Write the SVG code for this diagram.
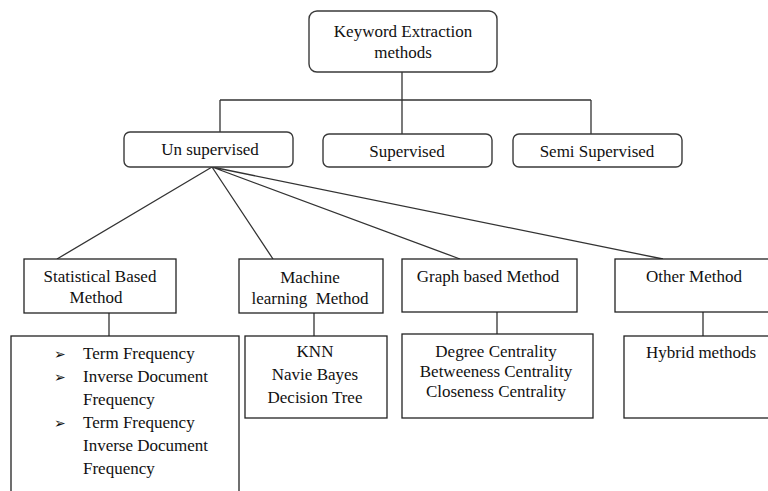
<svg xmlns="http://www.w3.org/2000/svg" width="768" height="491" viewBox="0 0 768 491">
<style>
  .rbox { fill: #fff; stroke: #3a3a3a; stroke-width: 1.4; }
  .box { fill: #fff; stroke: #222; stroke-width: 1.3; }
  .conn { fill: none; stroke: #333; stroke-width: 1.3; }
  .c { text-anchor: middle; }
</style>
<rect width="768" height="491" fill="#fff"/>
<g id="connectors">
  <path class="conn" d="M402 72 V134 M220 100 H591 M220 100 V132 M591 100 V134"/>
  <path class="conn" d="M212 167 L57 259 M212 167 L273 259 M212 167 L460 259 M212 167 L663 259"/>
  <path class="conn" d="M109 313 V336 M314 313 V336 M497 312 V334 M703 312 V336"/>
</g>
<g id="keyword-extraction">
  <rect class="rbox" x="309" y="11" width="188" height="61" rx="8"/>
  <text class="c" x="403" y="37" font-family="Liberation Serif" font-size="17" fill="#111">Keyword Extraction</text>
  <text class="c" x="403" y="58" font-family="Liberation Serif" font-size="17" fill="#111">methods</text>
</g>
<g id="unsupervised">
  <rect class="rbox" x="124" y="132" width="169" height="35" rx="6"/>
  <text class="c" x="210" y="155" font-family="Liberation Serif" font-size="17" fill="#111">Un supervised</text>
</g>
<g id="supervised">
  <rect class="rbox" x="323" y="134" width="169" height="33" rx="6"/>
  <text class="c" x="407" y="157" font-family="Liberation Serif" font-size="17" fill="#111">Supervised</text>
</g>
<g id="semi-supervised">
  <rect class="rbox" x="513" y="134" width="169" height="33" rx="6"/>
  <text class="c" x="597" y="157" font-family="Liberation Serif" font-size="17" fill="#111">Semi Supervised</text>
</g>
<g id="statistical">
  <rect class="box" x="24" y="259" width="152" height="54"/>
  <text class="c" x="100" y="282" font-family="Liberation Serif" font-size="17" fill="#111">Statistical Based</text>
  <text class="c" x="96" y="303" font-family="Liberation Serif" font-size="17" fill="#111">Method</text>
</g>
<g id="machine-learning">
  <rect class="box" x="239" y="259" width="144" height="54"/>
  <text class="c" x="310" y="283" font-family="Liberation Serif" font-size="17" fill="#111">Machine</text>
  <text class="c" x="310" y="304" font-family="Liberation Serif" font-size="17" fill="#111" xml:space="preserve">learning  Method</text>
</g>
<g id="graph-based">
  <rect class="box" x="402" y="259" width="175" height="53"/>
  <text class="c" x="488" y="282" font-family="Liberation Serif" font-size="17" fill="#111">Graph based Method</text>
</g>
<g id="other">
  <rect class="box" x="615" y="259" width="160" height="53"/>
  <text class="c" x="694" y="282" font-family="Liberation Serif" font-size="17" fill="#111">Other Method</text>
</g>
<g id="statistical-list">
  <rect class="box" x="11" y="336" width="228" height="170"/>
  <text x="54" y="359" font-family="DejaVu Sans" font-size="14" fill="#111">➢</text>
  <text x="83" y="359" font-family="Liberation Serif" font-size="17" fill="#111">Term Frequency</text>
  <text x="54" y="382" font-family="DejaVu Sans" font-size="14" fill="#111">➢</text>
  <text x="83" y="382" font-family="Liberation Serif" font-size="17" fill="#111">Inverse Document</text>
  <text x="83" y="405" font-family="Liberation Serif" font-size="17" fill="#111">Frequency</text>
  <text x="54" y="428" font-family="DejaVu Sans" font-size="14" fill="#111">➢</text>
  <text x="83" y="428" font-family="Liberation Serif" font-size="17" fill="#111">Term Frequency</text>
  <text x="83" y="451" font-family="Liberation Serif" font-size="17" fill="#111">Inverse Document</text>
  <text x="83" y="474" font-family="Liberation Serif" font-size="17" fill="#111">Frequency</text>
</g>
<g id="machine-list">
  <rect class="box" x="245" y="336" width="142" height="82"/>
  <text class="c" x="315" y="357" font-family="Liberation Serif" font-size="17" fill="#111">KNN</text>
  <text class="c" x="315" y="380" font-family="Liberation Serif" font-size="17" fill="#111">Navie Bayes</text>
  <text class="c" x="315" y="403" font-family="Liberation Serif" font-size="17" fill="#111">Decision Tree</text>
</g>
<g id="graph-list">
  <rect class="box" x="402" y="334" width="191" height="84"/>
  <text class="c" x="496" y="357" font-family="Liberation Serif" font-size="17" fill="#111">Degree Centrality</text>
  <text class="c" x="496" y="377" font-family="Liberation Serif" font-size="17" fill="#111">Betweeness Centrality</text>
  <text class="c" x="496" y="397" font-family="Liberation Serif" font-size="17" fill="#111">Closeness Centrality</text>
</g>
<g id="other-list">
  <rect class="box" x="624" y="336" width="160" height="82"/>
  <text class="c" x="701" y="358" font-family="Liberation Serif" font-size="17" fill="#111">Hybrid methods</text>
</g>
</svg>
